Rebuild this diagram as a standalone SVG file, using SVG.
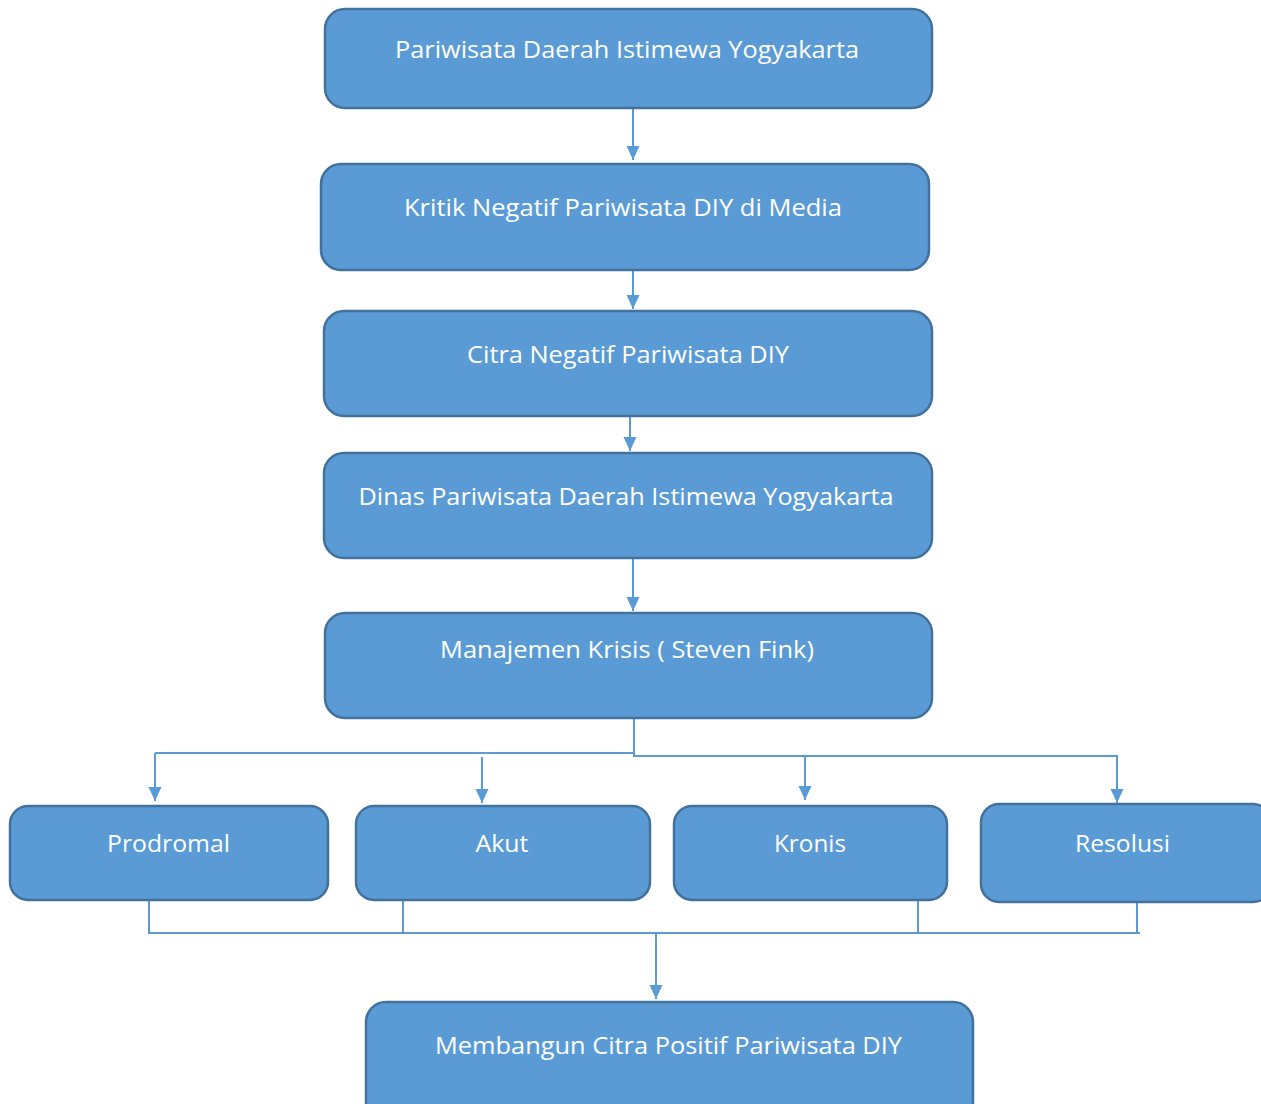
<svg xmlns="http://www.w3.org/2000/svg" width="1261" height="1104" viewBox="0 0 1261 1104">
<style>
.box{fill:#5B9BD5;stroke:#41719C;stroke-width:2.5}
.lbl{fill:#FFFFFF;font-family:"Open Sans","Noto Sans","Liberation Sans",sans-serif;font-size:23px;text-anchor:middle}
.ln{stroke:#5B9BD5;stroke-width:2;fill:none}
</style>
<defs>
<marker id="arr" markerWidth="16" markerHeight="16" refX="14" refY="8" orient="auto" markerUnits="userSpaceOnUse" viewBox="0 0 16 16">
<path d="M0,1.5 L14,8 L0,14.5 Z" fill="#5B9BD5"/>
</marker>
</defs>
<g id="connectors">
<line class="ln" x1="633" y1="108" x2="633" y2="160" marker-end="url(#arr)"/>
<line class="ln" x1="633" y1="270" x2="633" y2="309" marker-end="url(#arr)"/>
<line class="ln" x1="630" y1="416" x2="630" y2="451" marker-end="url(#arr)"/>
<line class="ln" x1="633" y1="558" x2="633" y2="611" marker-end="url(#arr)"/>
<line class="ln" x1="634" y1="718" x2="634" y2="757"/>
<line class="ln" x1="155" y1="753" x2="634" y2="753"/>
<line class="ln" x1="634" y1="756" x2="1118" y2="756"/>
<line class="ln" x1="155" y1="753" x2="155" y2="801" marker-end="url(#arr)"/>
<line class="ln" x1="482" y1="757" x2="482" y2="803" marker-end="url(#arr)"/>
<line class="ln" x1="805" y1="756" x2="805" y2="800" marker-end="url(#arr)"/>
<line class="ln" x1="1117" y1="756" x2="1117" y2="803" marker-end="url(#arr)"/>
<line class="ln" x1="149" y1="900" x2="149" y2="933"/>
<line class="ln" x1="403" y1="900" x2="403" y2="933"/>
<line class="ln" x1="918" y1="900" x2="918" y2="933"/>
<line class="ln" x1="1137" y1="902" x2="1137" y2="933"/>
<line class="ln" x1="148" y1="933" x2="1140" y2="933"/>
<line class="ln" x1="656" y1="933" x2="656" y2="999" marker-end="url(#arr)"/>
</g>
<g id="n1"><rect class="box" x="325" y="9" width="607" height="99" rx="20"/><text class="lbl" x="627" y="58" textLength="464" lengthAdjust="spacingAndGlyphs">Pariwisata Daerah Istimewa Yogyakarta</text></g>
<g id="n2"><rect class="box" x="321" y="164" width="608" height="106" rx="20"/><text class="lbl" x="623" y="216" textLength="438" lengthAdjust="spacingAndGlyphs">Kritik Negatif Pariwisata DIY di Media</text></g>
<g id="n3"><rect class="box" x="324" y="311" width="608" height="105" rx="20"/><text class="lbl" x="628" y="363" textLength="322" lengthAdjust="spacingAndGlyphs">Citra Negatif Pariwisata DIY</text></g>
<g id="n4"><rect class="box" x="324" y="453" width="608" height="105" rx="20"/><text class="lbl" x="626" y="505" textLength="535" lengthAdjust="spacingAndGlyphs">Dinas Pariwisata Daerah Istimewa Yogyakarta</text></g>
<g id="n5"><rect class="box" x="325" y="613" width="607" height="105" rx="20"/><text class="lbl" x="627" y="658" textLength="374" lengthAdjust="spacingAndGlyphs">Manajemen Krisis ( Steven Fink)</text></g>
<g id="n6"><rect class="box" x="10" y="806" width="318" height="94" rx="18"/><text class="lbl" x="168.5" y="852" textLength="123" lengthAdjust="spacingAndGlyphs">Prodromal</text></g>
<g id="n7"><rect class="box" x="356" y="806" width="294" height="94" rx="18"/><text class="lbl" x="502" y="852" textLength="53" lengthAdjust="spacingAndGlyphs">Akut</text></g>
<g id="n8"><rect class="box" x="674" y="806" width="273" height="94" rx="18"/><text class="lbl" x="810" y="852" textLength="72" lengthAdjust="spacingAndGlyphs">Kronis</text></g>
<g id="n9"><rect class="box" x="981" y="804" width="290" height="98" rx="18"/><text class="lbl" x="1122.5" y="852" textLength="95" lengthAdjust="spacingAndGlyphs">Resolusi</text></g>
<g id="n10"><rect class="box" x="366" y="1002" width="607" height="120" rx="20"/><text class="lbl" x="668.5" y="1054" textLength="467" lengthAdjust="spacingAndGlyphs">Membangun Citra Positif Pariwisata DIY</text></g>
</svg>
